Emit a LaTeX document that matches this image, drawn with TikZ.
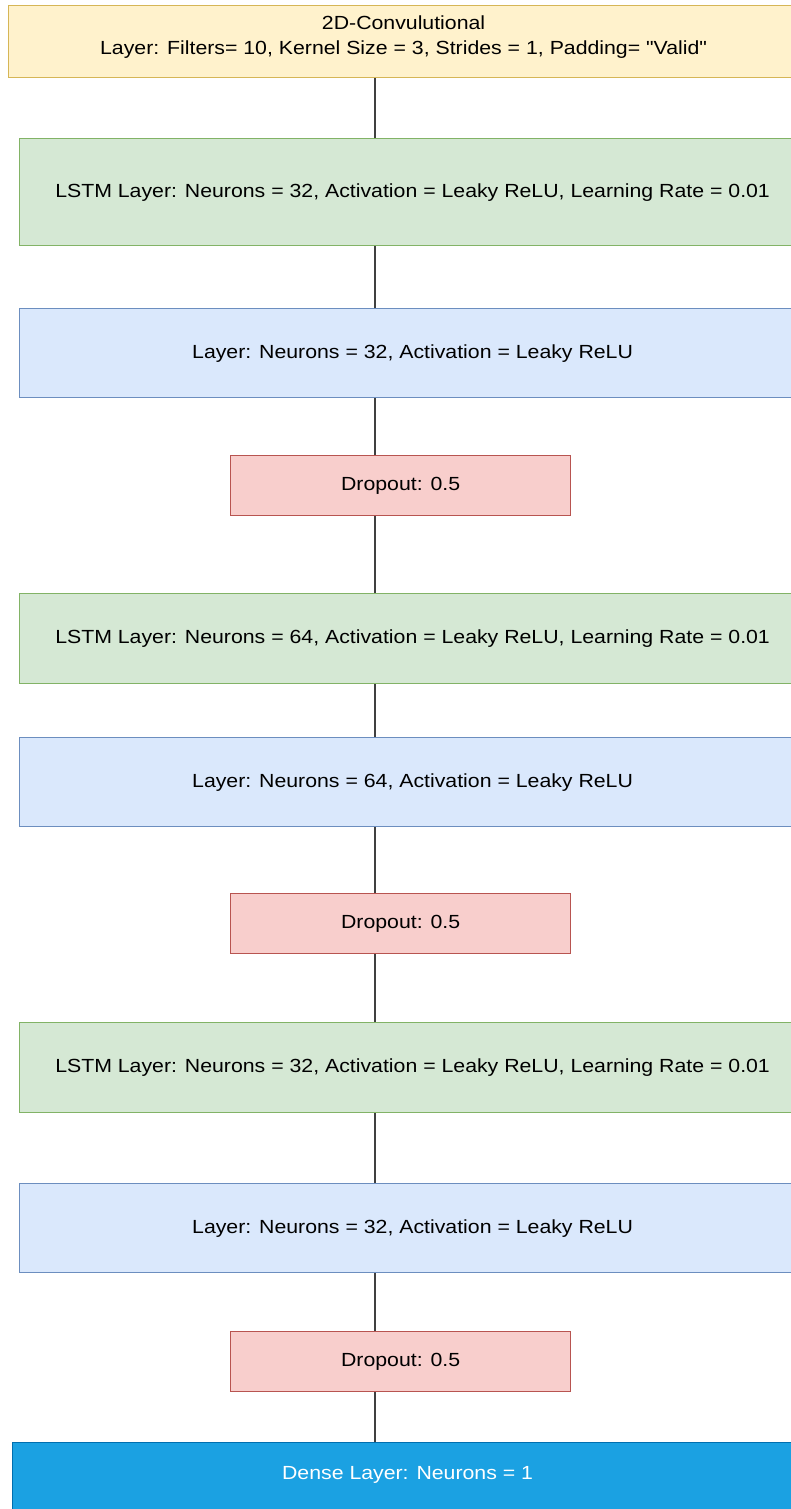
\documentclass[tikz,border=0pt]{standalone}
\usepackage{fontspec}
\setmainfont{Liberation Sans}[FakeStretch=1.12,Ligatures=TeXOff]
\definecolor{convfill}{HTML}{FFF2CC}
\definecolor{convline}{HTML}{D6B656}
\definecolor{lstmfill}{HTML}{D5E8D4}
\definecolor{lstmline}{HTML}{82B366}
\definecolor{hidfill}{HTML}{DAE8FC}
\definecolor{hidline}{HTML}{6C8EBF}
\definecolor{dropfill}{HTML}{F8CECC}
\definecolor{dropline}{HTML}{B85450}
\definecolor{densefill}{HTML}{1BA1E2}
\definecolor{denseline}{HTML}{006EAF}
\begin{document}
\begin{tikzpicture}[x=1pt,y=-1pt,
 layer/.style={draw,anchor=north west,inner sep=0pt,line width=1.2pt,align=center,font=\fontsize{19}{25}\selectfont},
 convbox/.style={layer,fill=convfill,draw=convline,minimum width=790pt,minimum height=72pt,text depth=12pt},
 lstmbox/.style={layer,fill=lstmfill,draw=lstmline,minimum width=786pt},
 hidbox/.style={layer,fill=hidfill,draw=hidline,minimum width=786pt,minimum height=89pt},
 dropbox/.style={layer,fill=dropfill,draw=dropline,minimum width=340pt,minimum height=60pt},
 densebox/.style={layer,fill=densefill,draw=denseline,text=white,minimum width=790pt,minimum height=80pt,text depth=19pt},
 link/.style={draw=black!75,line width=1.3pt}]
 \useasboundingbox (0,0) rectangle (791,1509);
 \clip (0,0) rectangle (791,1509);
 \node[convbox] (conv) at (8,5) {2D-Convulutional\\Layer: Filters= 10, Kernel Size = 3, Strides = 1, Padding= "Valid"};
 \node[lstmbox,minimum height=107pt] (lstma) at (19,138) {LSTM Layer: Neurons = 32, Activation = Leaky ReLU, Learning Rate = 0.01};
 \node[hidbox] (hida) at (19,308) {Layer: Neurons = 32, Activation = Leaky ReLU};
 \node[dropbox] (dropa) at (230,455) {Dropout: 0.5};
 \node[lstmbox,minimum height=90pt] (lstmb) at (19,593) {LSTM Layer: Neurons = 64, Activation = Leaky ReLU, Learning Rate = 0.01};
 \node[hidbox] (hidb) at (19,737) {Layer: Neurons = 64, Activation = Leaky ReLU};
 \node[dropbox] (dropb) at (230,893) {Dropout: 0.5};
 \node[lstmbox,minimum height=90pt] (lstmc) at (19,1022) {LSTM Layer: Neurons = 32, Activation = Leaky ReLU, Learning Rate = 0.01};
 \node[hidbox] (hidc) at (19,1183) {Layer: Neurons = 32, Activation = Leaky ReLU};
 \node[dropbox] (dropc) at (230,1331) {Dropout: 0.5};
 \node[densebox] (dense) at (12,1442) {Dense Layer: Neurons = 1};
 \coordinate (axis) at (375,0);
 \foreach \a/\b in {conv/lstma,lstma/hida,hida/dropa,dropa/lstmb,lstmb/hidb,hidb/dropb,dropb/lstmc,lstmc/hidc,hidc/dropc,dropc/dense}
  \draw[link] (\a.south -| axis) -- (\b.north -| axis);
\end{tikzpicture}
\end{document}
